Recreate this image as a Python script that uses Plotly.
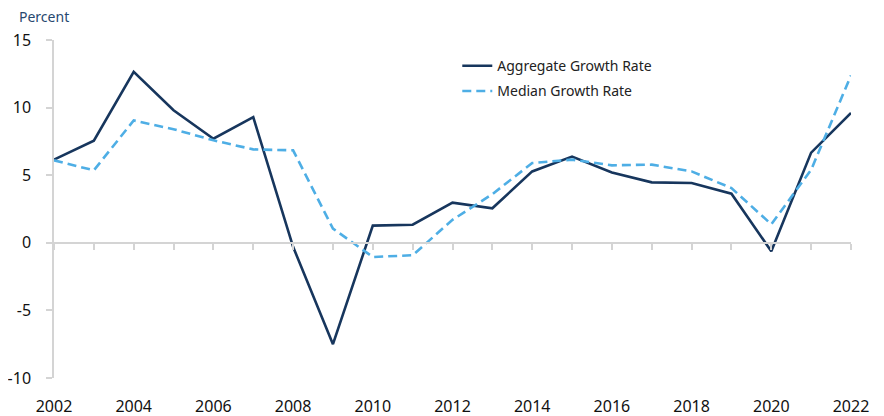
import plotly.graph_objects as go

years = list(range(2002, 2023))
aggregate = [6.15, 7.55, 12.65, 9.8, 7.7, 9.3, -0.3, -7.5, 1.27, 1.34, 2.97, 2.55,
             5.28, 6.38, 5.2, 4.47, 4.42, 3.63, -0.63, 6.67, 9.6]
median = [6.1, 5.36, 9.05, 8.4, 7.58, 6.91, 6.84, 1.05, -1.05, -0.92, 1.7, 3.6,
          5.9, 6.15, 5.73, 5.78, 5.28, 4.05, 1.37, 5.4, 12.38]
y_ticks = [-10, -5, 0, 5, 10, 15]
x_label_ticks = list(range(2002, 2023, 2))

FONT = "Noto Sans"
NAVY = "#17365d"
LIGHT = "#4eaee5"
GRAY = "#d4d4d4"

fig = go.Figure()
fig.add_trace(go.Scatter(x=years, y=aggregate, mode="lines", name="Aggregate Growth Rate",
                         legendgroup="a", line=dict(color=NAVY, width=2.6)))
fig.add_trace(go.Scatter(x=years, y=median, mode="lines", name="Median Growth Rate",
                         legendgroup="m", line=dict(color=LIGHT, width=2.6, dash="9px,5px")))

fig.update_layout(
    width=876, height=408,
    margin=dict(l=46, r=33, t=32, b=38, autoexpand=False),
    plot_bgcolor="white", paper_bgcolor="white",
    font=dict(family=FONT, size=16, color="#111111"),
    showlegend=True,
    legend=dict(x=0.506, y=0.97, xanchor="left", yanchor="top",
                font=dict(family=FONT, size=14, color="#222222"),
                bgcolor="rgba(0,0,0,0)", traceorder="grouped", tracegroupgap=4,
                itemwidth=30),
    xaxis=dict(range=[2002, 2022], anchor="free", position=(0 - (-10)) / 25,
               showline=True, linecolor=GRAY, linewidth=1.5, automargin=False,
               ticks="outside", tickcolor=GRAY, ticklen=6, tickwidth=1.5,
               tickmode="array", tickvals=years, showticklabels=False,
               showgrid=False, zeroline=False),
    xaxis2=dict(matches="x", overlaying="x", anchor="y", side="bottom",
                showline=False, ticks="", tickmode="array", tickvals=x_label_ticks,
                ticktext=[str(v) for v in x_label_ticks], ticklabelstandoff=17,
                showgrid=False, zeroline=False, automargin=False,
                tickfont=dict(family=FONT, size=16, color="#111111")),
    yaxis=dict(range=[-10, 15], tickmode="array", tickvals=y_ticks,
               ticktext=[str(v) for v in y_ticks], automargin=False,
               showline=True, linecolor=GRAY, linewidth=1.5,
               ticks="outside", tickcolor=GRAY, ticklen=6, tickwidth=1.5,
               ticklabelstandoff=12, showgrid=False, zeroline=False,
               tickfont=dict(family=FONT, size=16, color="#111111")),
    annotations=[dict(text="Percent", xref="paper", yref="paper", x=-0.046, y=1.0,
                      xanchor="left", yanchor="bottom", yshift=12, showarrow=False,
                      font=dict(family=FONT, size=14, color="#27486f"))],
)
fig.add_trace(go.Scatter(x=[2002], y=[None], xaxis="x2", yaxis="y", showlegend=False,
                         hoverinfo="skip", mode="lines"))

fig.write_html("out.html")
